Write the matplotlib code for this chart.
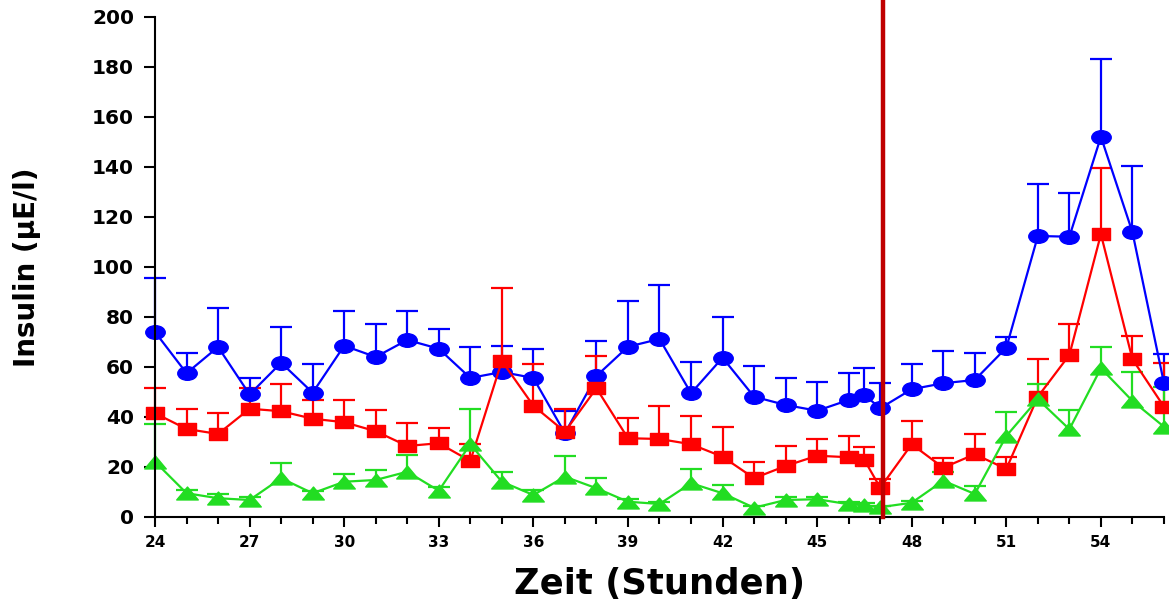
import numpy as np
import matplotlib
matplotlib.use("Agg")
import matplotlib.pyplot as plt
from matplotlib.path import Path

hours = [24, 25, 26, 27, 28, 29, 30, 31, 32, 33, 34, 35, 36, 37, 38, 39, 40,
         41, 42, 43, 44, 45, 46, 46.5, 47, 48, 49, 50, 51, 52, 53, 54, 55, 56]

blue_mean = [74, 57.5, 68, 49, 61.7, 49.7, 68.5, 64, 70.8, 67.3, 55.6, 58, 55.6,
             33.5, 56.4, 68.1, 71.2, 49.5, 63.7, 48.1, 44.8, 42.5, 46.8, 48.8, 43.5,
             51.1, 53.5, 54.8, 67.7, 112.4, 112.1, 152.1, 113.9, 53.5]
blue_top = [95.5, 65.5, 83.7, 55.7, 76.1, 61.1, 82.3, 77.2, 82.3, 75.1, 68.1, 68.4, 67.1,
            42.5, 70.5, 86.4, 92.9, 62.1, 80, 60.4, 55.6, 54.1, 57.7, 59.6, 53.7,
            61.1, 66.4, 65.7, 72.1, 133.1, 129.5, 183.1, 140.5, 65.1]

red_mean = [41.5, 35.2, 33.2, 43.3, 42.3, 39.3, 37.9, 34.3, 28.4, 29.5, 22.4, 62.4, 44.5,
            34.1, 51.5, 31.5, 31.2, 29.1, 24.1, 15.5, 20.4, 24.5, 23.9, 22.8, 11.7,
            29.1, 19.7, 25.1, 19.2, 48.1, 64.8, 113.1, 63.1, 44.1]
red_top = [51.7, 43.3, 41.7, 51.7, 53.1, 46.9, 46.9, 42.7, 37.5, 35.5, 29.2, 91.7, 61.1,
           43.1, 64.4, 39.6, 44.5, 40.5, 35.9, 22, 28.5, 31.2, 32.5, 28.1, 15.3,
           38.5, 23.7, 33.2, 24.1, 63.1, 77.1, 139.7, 72.5, 61.7]

green_mean = [22.1, 9.5, 7.5, 6.8, 15.5, 9.5, 14.1, 14.8, 18.1, 10.5, 29.1, 14.1, 8.8,
              16.1, 11.5, 6.1, 5.2, 13.5, 9.5, 3.7, 6.8, 7.1, 5.1, 4.7, 3.9,
              5.7, 14.5, 9.2, 32.4, 47.1, 35.1, 59.5, 46.4, 36.1]
green_top = [37.2, 10.8, 9.1, 8.1, 21.5, 10.5, 17, 18.8, 24.8, 11.9, 43.3, 17.9, 10.8,
             24.4, 15.5, 7, 6, 19.2, 12.7, 4.5, 8, 8, 6, 5.5, 4.5,
             6.5, 17.9, 12.4, 41.9, 53.2, 42.8, 68.1, 58.1, 52]

event_hour = 47.1

# the original picture is stretched sideways, so the markers are flat
circ = Path.unit_circle()
ellipse = Path(circ.vertices * [1.0, 0.7], circ.codes)
flat_square = Path([(-1, -0.65), (1, -0.65), (1, 0.65), (-1, 0.65), (-1, -0.65)],
                   [Path.MOVETO, Path.LINETO, Path.LINETO, Path.LINETO, Path.CLOSEPOLY])
flat_tri = Path([(-1, -0.6), (1, -0.6), (0, 0.6), (-1, -0.6)],
                [Path.MOVETO, Path.LINETO, Path.LINETO, Path.CLOSEPOLY])

plt.rcParams['font.family'] = ['DejaVu Sans']
plt.rcParams['font.weight'] = 'bold'

fig = plt.figure(figsize=(11.69, 6.06), dpi=100)
ax = fig.add_axes([0.1326, 0.1469, 0.8631, 0.8251])

series = [
    (blue_mean, blue_top, '#0000ff', ellipse, 14),
    (red_mean, red_top, '#ff0000', flat_square, 13),
    (green_mean, green_top, '#22dd22', flat_tri, 15.5),
]
for mean, top, col, mk, ms in series:
    mean = np.array(mean)
    up = np.array(top) - mean
    line, caps, bars = ax.errorbar(hours, mean, yerr=[np.zeros_like(up), up],
                                   color=col, ecolor=col, marker=mk, markersize=ms,
                                   linewidth=1.6, elinewidth=1.6, capsize=8,
                                   capthick=1.6, clip_on=False)
    # only the upper caps are drawn in the original
    caps[0].set_visible(False)

ax.axvline(event_hour, ymin=0, ymax=1.04, color='#c00000', linewidth=3.2,
           clip_on=False, zorder=5)

ax.set_xlim(24, 56)
ax.set_ylim(0, 200)
ax.set_xticks(np.arange(24, 57, 3))
ax.set_xticks(np.arange(24, 57, 1), minor=True)
ax.set_yticks(np.arange(0, 201, 20))

for s in ['top', 'right']:
    ax.spines[s].set_visible(False)
for s in ['left', 'bottom']:
    ax.spines[s].set_linewidth(1.5)

ax.tick_params(axis='x', which='major', length=7, width=1.5, labelsize=11, pad=6)
ax.tick_params(axis='x', which='minor', length=5, width=1.5)
ax.tick_params(axis='y', which='major', length=8, width=1.5, labelsize=14.5, pad=7)

ax.set_xlabel('Zeit (Stunden)', fontsize=25.5, fontweight='bold', labelpad=12)
ax.set_ylabel('Insulin (µE/l)', fontsize=20, fontweight='bold', labelpad=37)

fig.savefig('out.png', dpi=100)
